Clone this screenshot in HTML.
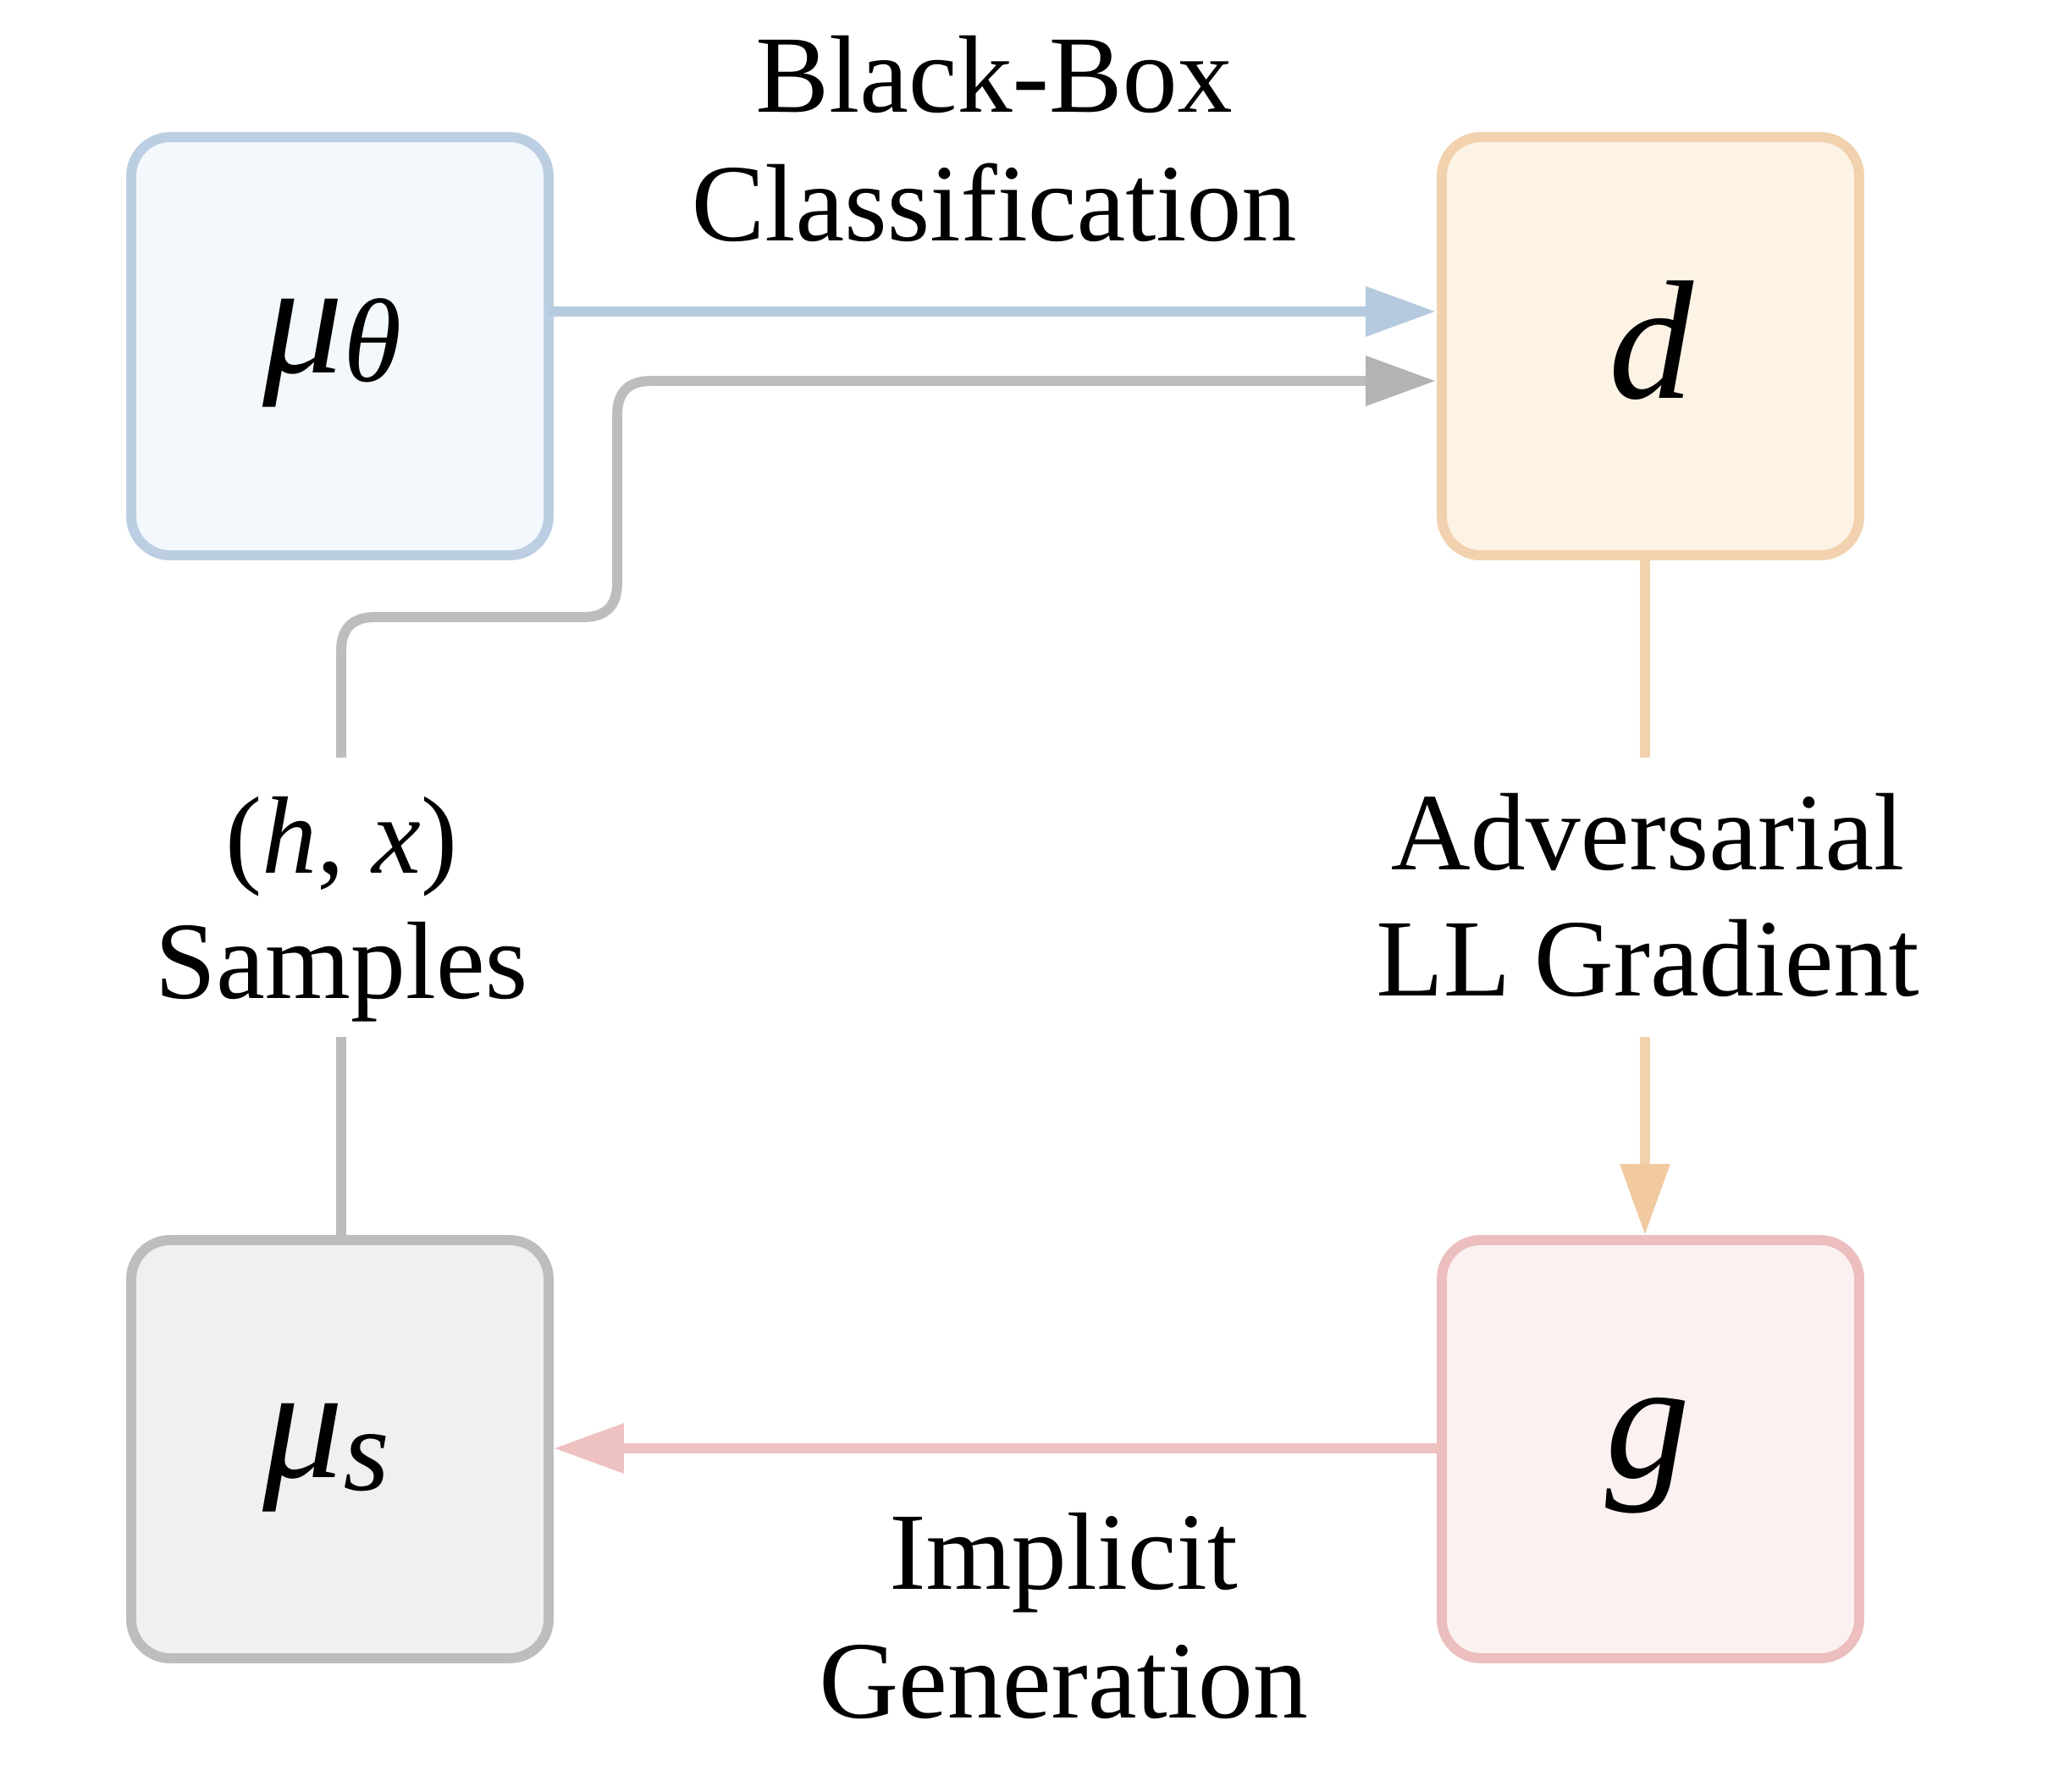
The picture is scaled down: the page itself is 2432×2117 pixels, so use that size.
<!DOCTYPE html>
<html><head><meta charset="utf-8"><style>html,body{margin:0;padding:0;background:#fff}</style></head>
<body>
<svg width="2432" height="2112" viewBox="0 0 2432 2112" xmlns="http://www.w3.org/2000/svg" font-family="Liberation Serif, serif">
<rect x="155" y="162" width="493" height="494" rx="46" fill="#f3f8fd" stroke="#bccfe2" stroke-width="12"/>
<rect x="1703" y="162" width="493" height="494" rx="46" fill="#fdf3e5" stroke="#f1d1ae" stroke-width="12"/>
<rect x="155" y="1465" width="493" height="494" rx="46" fill="#f0f0f0" stroke="#bdbdbd" stroke-width="12"/>
<rect x="1703" y="1465" width="493" height="494" rx="46" fill="#fcf1f1" stroke="#ecbebe" stroke-width="12"/>
<!-- blue arrow -->
<line x1="648" y1="368" x2="1620" y2="368" stroke="#b5cade" stroke-width="12"/>
<polygon points="1613,338 1695,368 1613,398" fill="#b5cade"/>
<!-- gray arrow -->
<path d="M403,895 L403,769 Q403,729 443,729 L689,729 Q729,729 729,689 L729,490 Q729,450 769,450 L1620,450" fill="none" stroke="#bdbdbd" stroke-width="12"/>
<polygon points="1613,420 1695,450 1613,480" fill="#b3b3b3"/>
<line x1="403" y1="1225" x2="403" y2="1465" stroke="#bdbdbd" stroke-width="12"/>
<!-- orange -->
<line x1="1943" y1="656" x2="1943" y2="895" stroke="#f1d1ae" stroke-width="12"/>
<line x1="1943" y1="1225" x2="1943" y2="1380" stroke="#f1d1ae" stroke-width="12"/>
<polygon points="1913,1375 1943,1458 1973,1375" fill="#f1caa0"/>
<!-- pink -->
<line x1="1703" y1="1711" x2="730" y2="1711" stroke="#efc2c2" stroke-width="12"/>
<polygon points="737,1681 655,1711 737,1741" fill="#efc2c2"/>
<!-- labels -->
<g font-size="130" text-anchor="middle" fill="#000">
<text x="1174" y="132">Black-Box</text>
<text x="1174" y="284">Classification</text>
<text x="403" y="1031">(<tspan font-style="italic">h</tspan>, <tspan font-style="italic">x</tspan>)</text>
<text x="403" y="1179">Samples</text>
<text x="1946" y="1027">Adversarial</text>
<text x="1946" y="1176">LL Gradient</text>
<text x="1256" y="1877">Implicit</text>
<text x="1256" y="2029">Generation</text>
</g>
<g font-style="italic" fill="#000" font-family="Liberation Serif, DejaVu Serif, serif">
<text x="310" y="440" font-size="190">μ<tspan font-size="140" dy="10">θ</tspan></text>
<text x="1950" y="470" font-size="200" text-anchor="middle">d</text>
<text x="310" y="1745" font-size="190">μ<tspan font-size="140" dy="15">s</tspan></text>
<text x="1946" y="1745" font-size="200" text-anchor="middle">g</text>
</g>
</svg>
</body></html>
